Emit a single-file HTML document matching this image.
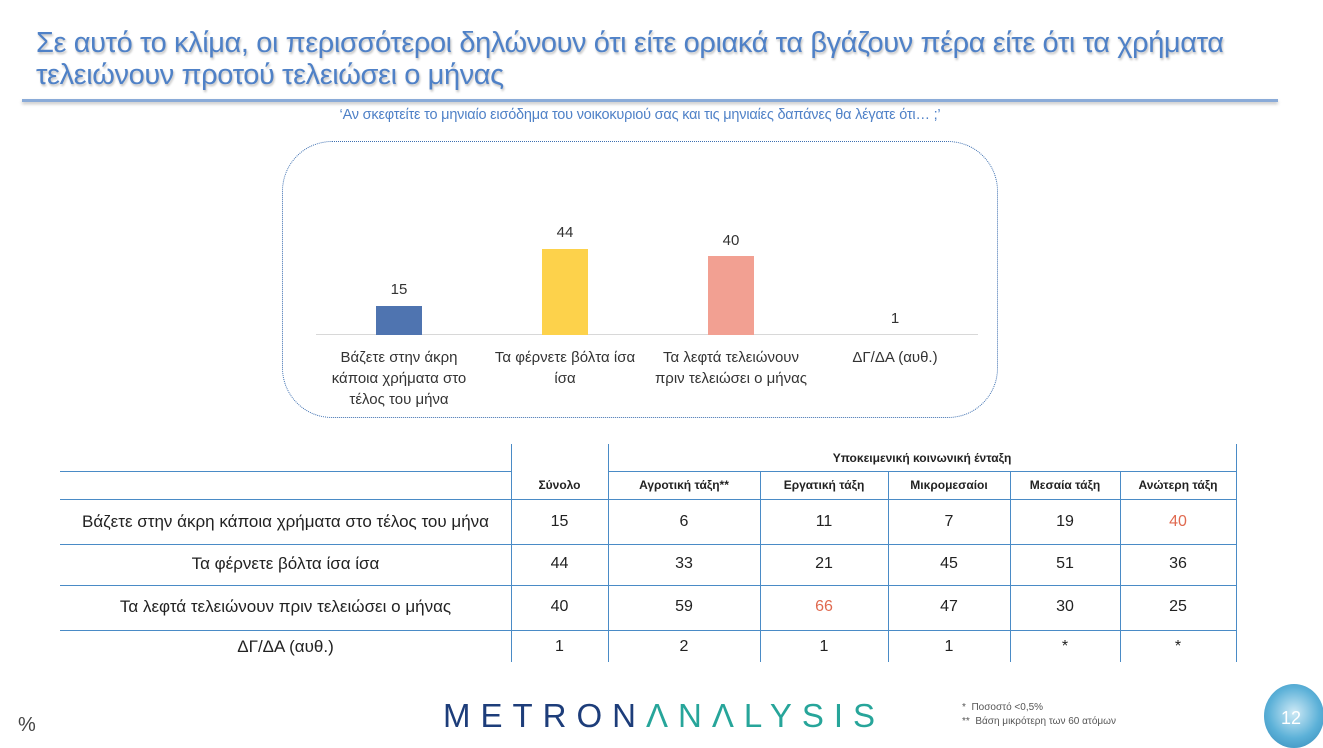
<!DOCTYPE html>
<html><head><meta charset="utf-8"><style>
body{margin:0;width:1323px;height:744px;background:#fff;position:relative;overflow:hidden;font-family:"Liberation Sans","DejaVu Sans",sans-serif}
.a{position:absolute}
.t{color:#4f81c7;font-size:29px;line-height:32px;text-shadow:1px 2px 2px rgba(0,0,0,.25);left:36px;top:27px;width:1230px;letter-spacing:-0.4px}
.hl{position:absolute;height:1px;background:#4a8bc6}
.vl{position:absolute;width:1px;background:#4a8bc6;top:444px;height:218px}
.c{position:absolute;text-align:center;font-size:16px;color:#222}
.lt{font-size:17px}
.h{font-size:12px;font-weight:bold}
.lab{position:absolute;text-align:center;font-size:15px;color:#333;line-height:21px;width:160px}
.v{position:absolute;font-size:15px;color:#333;width:46px;text-align:center}
</style></head><body>
<div class="a t">Σε αυτό το κλίμα, οι περισσότεροι δηλώνουν ότι είτε οριακά τα βγάζουν πέρα είτε ότι τα χρήματα τελειώνουν προτού τελειώσει ο μήνας</div>
<div class="a" style="left:22px;top:99px;width:1256px;height:3px;background:#8aabd8;box-shadow:0 2px 3px rgba(0,0,0,.25)"></div>
<div class="a" style="left:240px;top:107px;width:800px;text-align:center;font-size:14.5px;color:#4f81c7;letter-spacing:-0.2px">‘Αν σκεφτείτε το μηνιαίο εισόδημα του νοικοκυριού σας και τις μηνιαίες δαπάνες θα λέγατε ότι… ;’</div>
<div class="a" style="left:282px;top:141px;width:714px;height:275px;border:1px dotted #3d6fb0;border-radius:50px"></div>
<div class="a" style="left:316px;top:334px;width:662px;height:1px;background:#d8d8d8"></div>
<div class="a" style="left:376px;top:306px;width:46px;height:29px;background:#4f74b0"></div>
<div class="a" style="left:542px;top:249px;width:46px;height:86px;background:#fdd24b"></div>
<div class="a" style="left:708px;top:256px;width:46px;height:79px;background:#f2a092"></div>
<div class="v" style="left:376px;top:281px">15</div>
<div class="v" style="left:542px;top:224px">44</div>
<div class="v" style="left:708px;top:232px">40</div>
<div class="v" style="left:872px;top:310px">1</div>
<div class="lab" style="left:319px;top:347px">Βάζετε στην άκρη κάποια χρήματα στο τέλος του μήνα</div>
<div class="lab" style="left:485px;top:347px">Τα φέρνετε βόλτα ίσα ίσα</div>
<div class="lab" style="left:651px;top:347px">Τα λεφτά τελειώνουν πριν τελειώσει ο μήνας</div>
<div class="lab" style="left:815px;top:347px">ΔΓ/ΔΑ (αυθ.)</div>

<div class="hl" style="left:608px;top:471px;width:629px"></div>
<div class="hl" style="left:60px;top:471px;width:451px"></div>
<div class="hl" style="left:60px;top:499px;width:1177px"></div>
<div class="hl" style="left:60px;top:544px;width:1177px"></div>
<div class="hl" style="left:60px;top:585px;width:1177px"></div>
<div class="hl" style="left:60px;top:630px;width:1177px"></div>
<div class="vl" style="left:511px"></div>
<div class="vl" style="left:608px"></div>
<div class="vl" style="left:1236px"></div>
<div class="vl" style="left:760px;top:471px;height:191px"></div>
<div class="vl" style="left:888px;top:471px;height:191px"></div>
<div class="vl" style="left:1010px;top:471px;height:191px"></div>
<div class="vl" style="left:1120px;top:471px;height:191px"></div>

<div class="c h" style="left:608px;width:628px;top:451px">Υποκειμενική κοινωνική ένταξη</div>
<div class="c h" style="left:511px;width:97px;top:478px">Σύνολο</div>
<div class="c h" style="left:608px;width:152px;top:478px">Αγροτική τάξη**</div>
<div class="c h" style="left:760px;width:128px;top:478px">Εργατική τάξη</div>
<div class="c h" style="left:888px;width:122px;top:478px">Μικρομεσαίοι</div>
<div class="c h" style="left:1010px;width:110px;top:478px">Μεσαία τάξη</div>
<div class="c h" style="left:1120px;width:116px;top:478px">Ανώτερη τάξη</div>

<div class="c lt" style="left:60px;width:451px;top:512px">Βάζετε στην άκρη κάποια χρήματα στο τέλος του μήνα</div>
<div class="c lt" style="left:60px;width:451px;top:554px">Τα φέρνετε βόλτα ίσα ίσα</div>
<div class="c lt" style="left:60px;width:451px;top:597px">Τα λεφτά τελειώνουν πριν τελειώσει ο μήνας</div>
<div class="c lt" style="left:60px;width:451px;top:637px">ΔΓ/ΔΑ (αυθ.)</div>

<div class="c" style="left:511px;width:97px;top:513px">15</div><div class="c" style="left:608px;width:152px;top:513px">6</div><div class="c" style="left:760px;width:128px;top:513px">11</div><div class="c" style="left:888px;width:122px;top:513px">7</div><div class="c" style="left:1010px;width:110px;top:513px">19</div><div class="c" style="left:1120px;width:116px;top:513px;color:#e06a50">40</div>
<div class="c" style="left:511px;width:97px;top:555px">44</div><div class="c" style="left:608px;width:152px;top:555px">33</div><div class="c" style="left:760px;width:128px;top:555px">21</div><div class="c" style="left:888px;width:122px;top:555px">45</div><div class="c" style="left:1010px;width:110px;top:555px">51</div><div class="c" style="left:1120px;width:116px;top:555px">36</div>
<div class="c" style="left:511px;width:97px;top:598px">40</div><div class="c" style="left:608px;width:152px;top:598px">59</div><div class="c" style="left:760px;width:128px;top:598px;color:#e06a50">66</div><div class="c" style="left:888px;width:122px;top:598px">47</div><div class="c" style="left:1010px;width:110px;top:598px">30</div><div class="c" style="left:1120px;width:116px;top:598px">25</div>
<div class="c" style="left:511px;width:97px;top:638px">1</div><div class="c" style="left:608px;width:152px;top:638px">2</div><div class="c" style="left:760px;width:128px;top:638px">1</div><div class="c" style="left:888px;width:122px;top:638px">1</div><div class="c" style="left:1010px;width:110px;top:638px">*</div><div class="c" style="left:1120px;width:116px;top:638px">*</div>

<div class="a" style="left:18px;top:714px;font-size:20px;color:#444">%</div>
<div class="a" style="left:443px;top:697px;font-size:33px;letter-spacing:10px;color:#1d3d7a">METRON<span style="color:#27a59a">ΛNΛLYSIS</span></div>
<div class="a" style="left:962px;top:701px;font-size:10px;color:#555;line-height:14px">*&nbsp; Ποσοστό &lt;0,5%<br>**&nbsp; Βάση μικρότερη των 60 ατόμων</div>
<div class="a" style="left:1264px;top:684px;width:60px;height:64px;border-radius:50%;background:radial-gradient(circle at 50% 45%,#cfeaf6,#5cb1d8 55%,#2f86b6);"></div>
<div class="a" style="left:1281px;top:708px;font-size:18px;color:#fff">12</div>
</body></html>
